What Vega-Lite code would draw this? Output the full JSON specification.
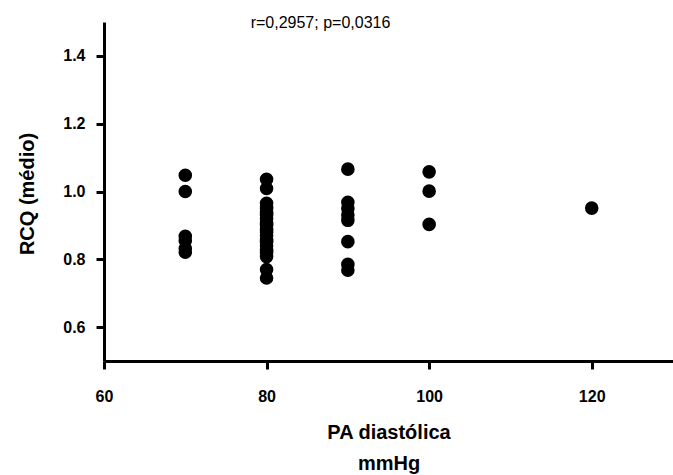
{
  "$schema": "https://vega.github.io/schema/vega-lite/v6.json",
  "width": 569,
  "height": 339,
  "autosize": {"type": "none"},
  "padding": {"left": 104, "top": 22, "right": 0, "bottom": 114},
  "background": "white",
  "title": {
    "text": "r=0,2957; p=0,0316",
    "anchor": "middle",
    "frame": "group",
    "dx": -68,
    "dy": 22,
    "offset": 0,
    "baseline": "alphabetic",
    "font": "Liberation Sans",
    "fontSize": 16,
    "fontWeight": "normal",
    "color": "black"
  },
  "data": {
    "values": [
      {"pa": 70, "rcq": 1.048}, {"pa": 70, "rcq": 1.0}, {"pa": 70, "rcq": 0.868}, {"pa": 70, "rcq": 0.855}, {"pa": 70, "rcq": 0.832}, {"pa": 70, "rcq": 0.821},
      {"pa": 80, "rcq": 1.036}, {"pa": 80, "rcq": 1.009}, {"pa": 80, "rcq": 0.965}, {"pa": 80, "rcq": 0.955}, {"pa": 80, "rcq": 0.95}, {"pa": 80, "rcq": 0.94},
      {"pa": 80, "rcq": 0.935}, {"pa": 80, "rcq": 0.93}, {"pa": 80, "rcq": 0.92}, {"pa": 80, "rcq": 0.91}, {"pa": 80, "rcq": 0.905}, {"pa": 80, "rcq": 0.9},
      {"pa": 80, "rcq": 0.89}, {"pa": 80, "rcq": 0.885}, {"pa": 80, "rcq": 0.88}, {"pa": 80, "rcq": 0.87}, {"pa": 80, "rcq": 0.86}, {"pa": 80, "rcq": 0.855},
      {"pa": 80, "rcq": 0.85}, {"pa": 80, "rcq": 0.84}, {"pa": 80, "rcq": 0.83}, {"pa": 80, "rcq": 0.825}, {"pa": 80, "rcq": 0.82}, {"pa": 80, "rcq": 0.808},
      {"pa": 80, "rcq": 0.77}, {"pa": 80, "rcq": 0.745},
      {"pa": 90, "rcq": 1.066}, {"pa": 90, "rcq": 0.968}, {"pa": 90, "rcq": 0.95}, {"pa": 90, "rcq": 0.931}, {"pa": 90, "rcq": 0.915}, {"pa": 90, "rcq": 0.852}, {"pa": 90, "rcq": 0.785}, {"pa": 90, "rcq": 0.768},
      {"pa": 100, "rcq": 1.058}, {"pa": 100, "rcq": 1.001}, {"pa": 100, "rcq": 0.903},
      {"pa": 120, "rcq": 0.951}
    ]
  },
  "mark": {"type": "circle", "size": 185, "color": "black", "opacity": 1},
  "encoding": {
    "x": {
      "field": "pa",
      "type": "quantitative",
      "scale": {"domain": [60, 130], "nice": false, "zero": false},
      "axis": {
        "values": [60, 80, 100, 120],
        "grid": false,
        "domainColor": "black",
        "domainWidth": 3,
        "tickColor": "black",
        "tickWidth": 3,
        "tickSize": 8,
        "labelFont": "Liberation Sans",
        "labelFontSize": 16,
        "labelFontWeight": "bold",
        "labelColor": "black",
        "labelPadding": 19,
        "labelFlush": false,
        "title": ["PA diastólica", "mmHg"],
        "titleFont": "Liberation Sans",
        "titleFontSize": 20,
        "titleFontWeight": "bold",
        "titleColor": "black",
        "titleX": 284.5,
        "titleY": 77,
        "titleAlign": "center",
        "titleBaseline": "alphabetic",
        "titleLineHeight": 31
      }
    },
    "y": {
      "field": "rcq",
      "type": "quantitative",
      "scale": {"domain": [0.5, 1.5], "nice": false, "zero": false},
      "axis": {
        "values": [0.6, 0.8, 1.0, 1.2, 1.4],
        "format": ".1f",
        "grid": false,
        "domainColor": "black",
        "domainWidth": 3,
        "tickColor": "black",
        "tickWidth": 3,
        "tickSize": 8,
        "labelFont": "Liberation Sans",
        "labelFontSize": 16,
        "labelFontWeight": "bold",
        "labelColor": "black",
        "labelPadding": 11,
        "labelFlush": false,
        "title": "RCQ (médio)",
        "titleFont": "Liberation Sans",
        "titleFontSize": 20,
        "titleFontWeight": "bold",
        "titleColor": "black",
        "titleX": -77,
        "titleY": 171.5,
        "titleAngle": -90,
        "titleAlign": "center",
        "titleBaseline": "middle"
      }
    }
  },
  "config": {"view": {"stroke": null}}
}
